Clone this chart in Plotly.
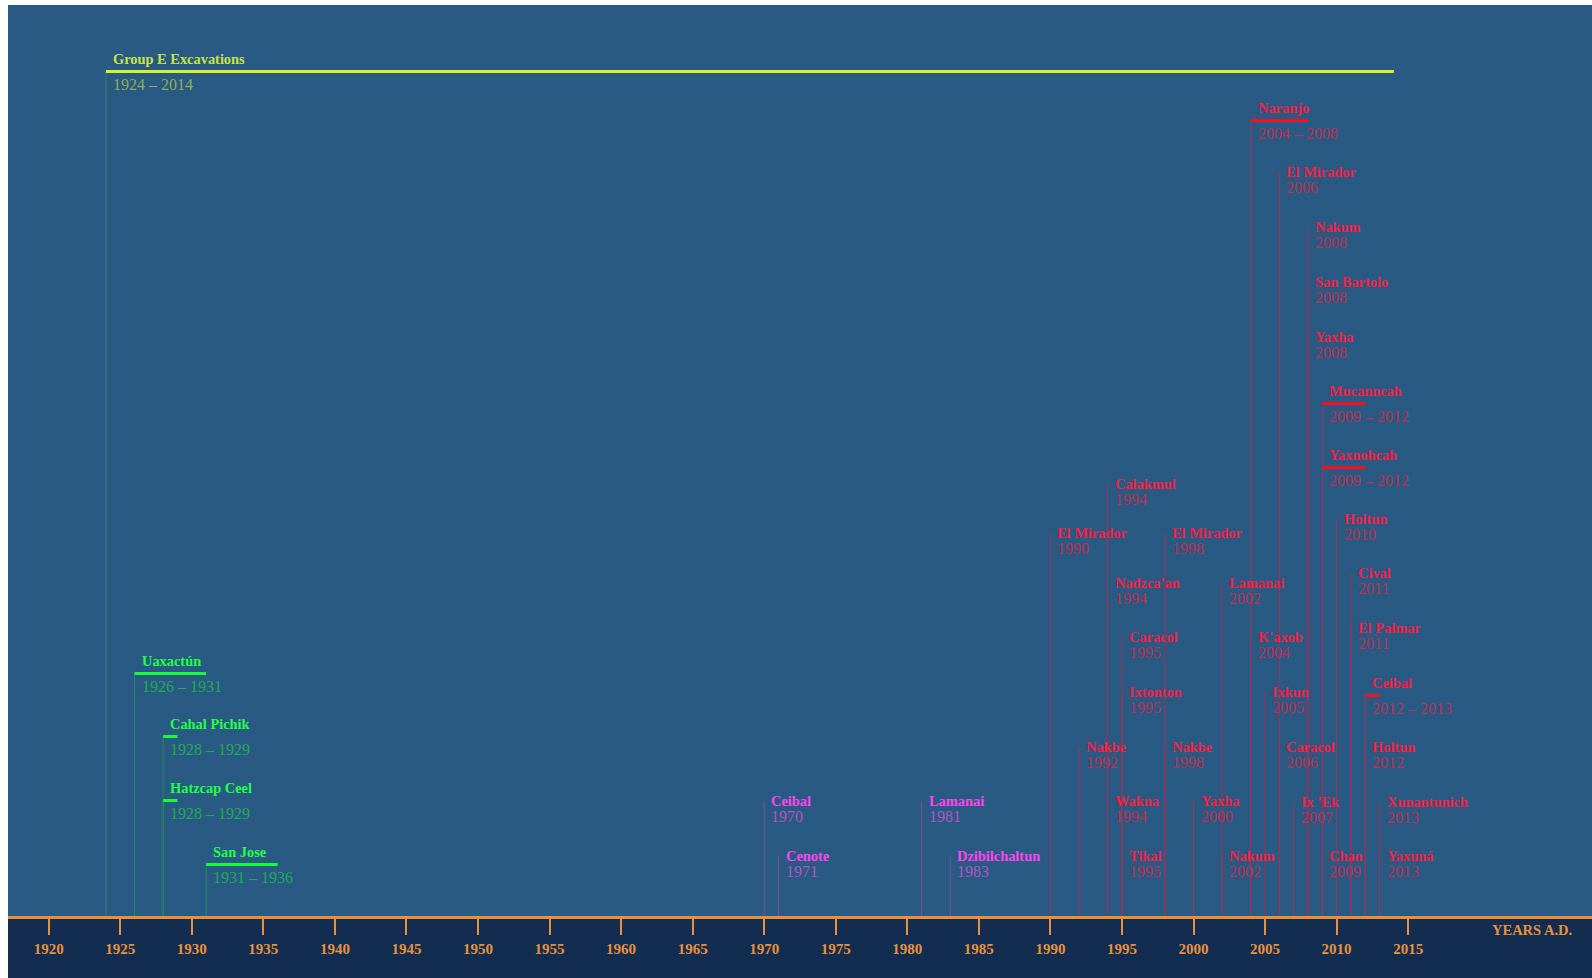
import plotly.graph_objects as go

# ---------------- DATA ----------------
SITES = ["Group E Excavations",
         "Uaxactún", "Cahal Pichik", "Hatzcap Ceel", "San Jose",
         "Ceibal", "Cenote", "Lamanai", "Dzibilchaltun",
         "El Mirador", "Nakbe", "Calakmul", "Nadzca'an", "Wakna", "Caracol", "Ixtonton", "Tikal",
         "El Mirador", "Nakbe", "Yaxha", "Lamanai", "Nakum", "Naranjo", "K'axob", "Ixkun",
         "El Mirador", "Caracol", "Ix 'Ek", "Nakum", "San Bartolo", "Yaxha", "Chan",
         "Mucanncah", "Yaxnohcah", "Holtun", "Cival", "El Palmar", "Ceibal", "Holtun",
         "Xunantunich", "Yaxuná"]
START = [1924,
         1926, 1928, 1928, 1931,
         1970, 1971, 1981, 1983,
         1990, 1992, 1994, 1994, 1994, 1995, 1995, 1995,
         1998, 1998, 2000, 2002, 2002, 2004, 2004, 2005,
         2006, 2006, 2007, 2008, 2008, 2008, 2009,
         2009, 2009, 2010, 2011, 2011, 2012, 2012,
         2013, 2013]
END = [2014,
       1931, 1929, 1929, 1936,
       None, None, None, None,
       None, None, None, None, None, None, None, None,
       None, None, None, None, None, 2008, None, None,
       None, None, None, None, None, None, None,
       2012, 2012, None, None, None, 2013, None,
       None, None]
ERA = ["group"] + ["early"] * 4 + ["mid"] * 4 + ["late"] * 32

TICK_YEARS = list(range(1920, 2016, 5))
AXIS_TITLE = "YEARS A.D."

# ---------------- LAYOUT (label stacking heights above the time axis, px) ----------------
LEVEL = [857,
         255, 192, 128, 64,
         115, 60, 115, 60,
         383, 169, 432, 333, 115, 279, 224, 60,
         383, 169, 115, 333, 60, 808, 279, 224,
         744, 169, 114, 689, 634, 579, 60,
         525, 461, 397, 343, 288, 233, 169,
         114, 60]

STYLE = {
    "group": dict(label="#c8e24a", bar="#d8f22a", date="#8fae55", vline="#4e7867"),
    "early": dict(label="#22ff44", bar="#11ff33", date="#22aa55", vline="#1f8f56"),
    "mid":   dict(label="#ff44ee", bar="#ff44ee", date="#b455c2", vline="#7d5196"),
    "late":  dict(label="#f41f45", bar="#ff0a1e", date="#bd3050", vline="#a03258"),
}

BG = "#285a83"
NAVY = "#122d4f"
ORANGE = "#e8913a"
FONT = "Liberation Serif"

W, H = 1592, 978
ML, MR, MT, MB = 8, 0, 5, 62
PX_PER_YEAR = 14.31
X_FIRST_TICK_PX = 40.7  # offset of first tick from plot left
plot_w = W - ML - MR
plot_h = H - MT - MB
x0 = TICK_YEARS[0] - X_FIRST_TICK_PX / PX_PER_YEAR
x1 = x0 + plot_w / PX_PER_YEAR

fig = go.Figure()

# vertical stems
for era in STYLE:
    xs, ys = [], []
    for s, e, era_i, lv in zip(START, END, ERA, LEVEL):
        if era_i != era:
            continue
        top = lv - 12.5 if e is not None else lv
        xs += [s, s, None]
        ys += [0, top, None]
    if xs:
        fig.add_trace(go.Scatter(x=xs, y=ys, mode="lines", hoverinfo="skip",
                                 line=dict(color=STYLE[era]["vline"], width=1),
                                 showlegend=False))

# range bars
for era in STYLE:
    xs, ys = [], []
    for s, e, era_i, lv in zip(START, END, ERA, LEVEL):
        if era_i != era or e is None:
            continue
        xs += [s, e, None]
        ys += [lv - 12.5, lv - 12.5, None]
    if xs:
        fig.add_trace(go.Scatter(x=xs, y=ys, mode="lines", hoverinfo="skip",
                                 line=dict(color=STYLE[era]["bar"], width=3),
                                 showlegend=False))

annotations = []
for name, s, e, era, lv in zip(SITES, START, END, ERA, LEVEL):
    st = STYLE[era]
    annotations.append(dict(x=s, y=lv, xref="x", yref="y", text=f"<b>{name}</b>",
                            showarrow=False, xanchor="left", yanchor="middle",
                            xshift=7, borderpad=0, borderwidth=0,
                            font=dict(family=FONT, size=14.4, color=st["label"])))
    if e is None:
        dtxt, dy = f"{s}", lv - 15.7
    else:
        dtxt, dy = f"{s} – {e}", lv - 25
    annotations.append(dict(x=s, y=dy, xref="x", yref="y", text=dtxt,
                            showarrow=False, xanchor="left", yanchor="middle",
                            xshift=7, borderpad=0, borderwidth=0,
                            font=dict(family=FONT, size=16, color=st["date"])))

annotations.append(dict(x=(1571.7 - ML) / plot_w, y=-14 / plot_h, xref="paper", yref="paper",
                        text=f"<b>{AXIS_TITLE}</b>", showarrow=False,
                        xanchor="right", yanchor="middle", borderpad=0, borderwidth=0,
                        font=dict(family=FONT, size=14.5, color=ORANGE)))

fig.update_layout(
    width=W, height=H,
    margin=dict(l=ML, r=MR, t=MT, b=MB, pad=0),
    paper_bgcolor="white",
    plot_bgcolor=BG,
    showlegend=False,
    annotations=annotations,
    shapes=[dict(type="rect", xref="paper", yref="paper", x0=0, x1=1,
                 y0=-(MB + 2) / plot_h, y1=0, fillcolor=NAVY, line=dict(width=0),
                 layer="below")],
    xaxis=dict(range=[x0, x1], tickvals=TICK_YEARS, ticktext=[str(t) for t in TICK_YEARS],
               ticks="outside", ticklen=16, tickwidth=2, tickcolor=ORANGE,
               showline=True, linewidth=3, linecolor=ORANGE, showgrid=False,
               zeroline=False, ticklabelstandoff=1,
               tickfont=dict(family=FONT, size=15, color=ORANGE, weight="bold")),
    yaxis=dict(range=[0, plot_h], visible=False, showgrid=False, zeroline=False),
)

fig.write_html("out.html", config={"displayModeBar": False},
               post_script="document.body.style.margin='0';")
